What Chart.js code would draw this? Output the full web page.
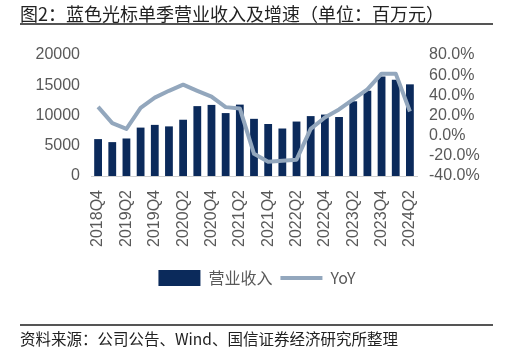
<!DOCTYPE html>
<html>
<head>
<meta charset="utf-8">
<script src="https://cdn.jsdelivr.net/npm/chart.js@4"></script>
<style>
  body { margin: 0; background: #fff; }
  #wrap { position: relative; width: 514px; height: 351px; overflow: hidden; }
  #c { position: absolute; left: 0; top: 0; }
  .title { position: absolute; left: 20px; top: 0px; font: 18px "Noto Sans CJK SC", sans-serif; color: #222; white-space: nowrap; }
  .rule { position: absolute; left: 20px; width: 473px; background: #555; }
  .source { position: absolute; left: 20px; top: 327px; font: 15.5px "Noto Sans CJK SC", sans-serif; color: #222; white-space: nowrap; }
</style>
</head>
<body>
<div id="wrap">
  <canvas id="c" width="514" height="351"></canvas>
  <div class="title">图2：蓝色光标单季营业收入及增速（单位：百万元）</div>
  <div class="rule" style="top:23px;height:2px;"></div>
  <div class="rule" style="top:324px;height:1.5px;"></div>
  <div class="source">资料来源：公司公告、Wind、国信证券经济研究所整理</div>
</div>
<script>
const quarters = ["2018Q4", "2019Q1", "2019Q2", "2019Q3", "2019Q4", "2020Q1", "2020Q2", "2020Q3",
  "2020Q4", "2021Q1", "2021Q2", "2021Q3", "2021Q4", "2022Q1", "2022Q2", "2022Q3",
  "2022Q4", "2023Q1", "2023Q2", "2023Q3", "2023Q4", "2024Q1", "2024Q2"];

// 营业收入, 百万元
const revenue = [6100, 5600, 6200, 8000, 8450, 8200, 9300, 11550, 11750, 10400, 11800, 9450,
  8600, 7850, 9000, 9900, 10150, 9750, 12350, 14100, 16450, 15900, 15150];

// YoY, %
const yoy = [28.6, 12.4, 6.7, 27.6, 37.7, 44.5, 50.6, 44.5, 38.7, 28.3, 27.0, -18.0,
  -25.8, -24.8, -23.8, 6.7, 18.0, 26.0, 36.0, 46.0, 61.5, 61.5, 24.0];

const leftTicks = [0, 5000, 10000, 15000, 20000];
const rightTicks = [-40, -20, 0, 20, 40, 60, 80];

const tickColor = "#595959";
const tickFont = { family: "'Liberation Sans', sans-serif", size: 16 };

const ctx = document.getElementById("c").getContext("2d");
new Chart(ctx, {
  type: "bar",
  data: {
    labels: quarters,
    datasets: [{
      label: "营业收入",
      data: revenue,
      backgroundColor: "#0b2a5b",
      barPercentage: 0.55,
      categoryPercentage: 1,
      yAxisID: "y",
      order: 1,
      pointStyle: "rect"
    }, {
      type: "line",
      label: "YoY",
      data: yoy,
      borderColor: "#93a7bd",
      backgroundColor: "#93a7bd",
      borderWidth: 4,
      tension: 0,
      pointRadius: 0,
      borderJoinStyle: "round",
      yAxisID: "y1",
      order: 0,
      pointStyle: "line"
    }]
  },
  options: {
    responsive: false,
    animation: false,
    layout: { padding: { top: 55, bottom: 55, left: 0, right: 0 } },
    plugins: {
      tooltip: { enabled: false },
      legend: {
        position: "bottom",
        labels: {
          usePointStyle: true,
          pointStyleWidth: 42,
          boxHeight: 17,
          padding: 8,
          color: tickColor,
          font: { family: "'Noto Sans CJK SC', sans-serif", size: 16 },
          sort: (a, b) => a.datasetIndex - b.datasetIndex
        }
      }
    },
    scales: {
      x: {
        grid: { display: false, drawTicks: false },
        border: { display: true, color: "#d0d0d0", width: 1 },
        ticks: {
          autoSkip: false,
          maxRotation: 90,
          minRotation: 90,
          padding: 14,
          color: tickColor,
          font: tickFont,
          callback: function (v, i) { return i % 2 === 0 ? quarters[i] : ""; }
        },
        afterFit: s => { s.height = 86; }
      },
      y: {
        position: "left",
        min: 0,
        max: 20000,
        grid: { display: false, drawTicks: false },
        border: { display: false },
        afterBuildTicks: s => { s.ticks = leftTicks.map(v => ({ value: v })); },
        ticks: { autoSkip: false, padding: 11, color: tickColor, font: tickFont, callback: v => String(v) },
        afterFit: s => { s.width = 91; }
      },
      y1: {
        position: "right",
        min: -40,
        max: 80,
        grid: { display: false, drawTicks: false },
        border: { display: false },
        afterBuildTicks: s => { s.ticks = rightTicks.map(v => ({ value: v })); },
        ticks: {
          autoSkip: false,
          padding: 12,
          color: tickColor,
          font: tickFont,
          callback: v => v.toFixed(1) + "%"
        },
        afterFit: s => { s.width = 97; }
      }
    }
  }
});
</script>
</body>
</html>
